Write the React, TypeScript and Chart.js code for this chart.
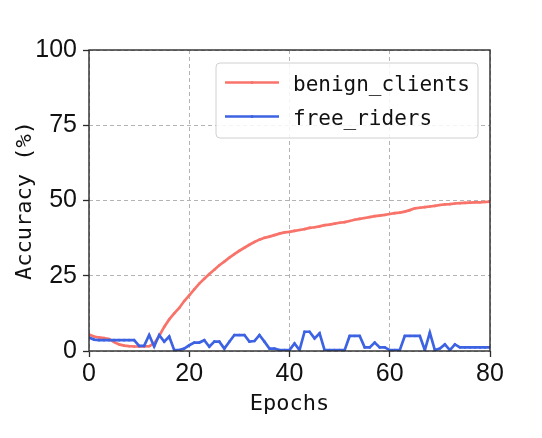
import { useEffect, useRef } from 'react';
import { Chart, registerables } from 'chart.js';

Chart.register(...registerables);

const epochs: number[] = [
  0, 1, 2, 3, 4, 5, 6, 7, 8, 9, 10, 11, 12, 13, 14, 15, 16, 17, 18, 19, 20,
  21, 22, 23, 24, 25, 26, 27, 28, 29, 30, 31, 32, 33, 34, 35, 36, 37, 38, 39, 40,
  41, 42, 43, 44, 45, 46, 47, 48, 49, 50, 51, 52, 53, 54, 55, 56, 57, 58, 59, 60,
  61, 62, 63, 64, 65, 66, 67, 68, 69, 70, 71, 72, 73, 74, 75, 76, 77, 78, 79, 80,
];

const benignClients: number[] = [
  5.5, 4.8, 4.5, 4.3, 4.0, 3.0, 2.2, 1.8, 1.6, 1.5, 1.5, 1.5, 1.6, 2.5, 5.0, 8.0,
  10.5, 12.5, 14.3, 16.6, 18.5, 20.5, 22.4, 24.0, 25.6, 27.0, 28.5, 29.7, 31.0,
  32.2, 33.3, 34.3, 35.3, 36.2, 37.0, 37.6, 38.0, 38.5, 39.0, 39.4, 39.6, 39.9,
  40.2, 40.5, 40.9, 41.1, 41.4, 41.8, 42.0, 42.3, 42.6, 42.8, 43.2, 43.6, 43.9,
  44.2, 44.5, 44.8, 45.0, 45.2, 45.5, 45.8, 46.0, 46.3, 46.8, 47.4, 47.6, 47.8,
  48.0, 48.2, 48.5, 48.7, 48.8, 49.0, 49.1, 49.2, 49.3, 49.4, 49.4, 49.5, 49.6,
];

const freeRiders: number[] = [
  4.5, 3.8, 3.6, 3.6, 3.6, 3.6, 3.6, 3.6, 3.6, 3.6, 1.7, 1.7, 5.3, 1.5, 5.3, 3.1,
  4.8, 0.3, 0.3, 0.8, 1.9, 2.8, 2.8, 3.6, 1.4, 3.1, 3.1, 0.8, 3.1, 5.3, 5.3, 5.3,
  3.1, 3.3, 5.3, 3.1, 0.8, 0.8, 0.3, 0.3, 0.3, 2.5, 0.3, 6.4, 6.4, 4.2, 5.9, 0.3,
  0.3, 0.3, 0.3, 0.3, 5.0, 5.0, 5.0, 1.2, 1.2, 2.8, 1.2, 1.2, 0.3, 0.3, 0.3, 5.0,
  5.0, 5.0, 5.0, 0.3, 6.1, 0.3, 0.8, 2.2, 0.3, 2.2, 1.2, 1.2, 1.2, 1.2, 1.2, 1.2,
  1.2, 1.9,
];

const seriesLabels: string[] = ['benign_clients', 'free_riders'];
const seriesColors: string[] = ['#f8736a', '#3d63e3'];
const xTicks: number[] = [0, 20, 40, 60, 80];
const yTicks: number[] = [0, 25, 50, 75, 100];

const MONO = '"DejaVu Sans Mono", monospace';
const SANS = '"Liberation Sans", Arial, sans-serif';

const framePlugin = {
  id: 'frameAndLegend',
  afterDraw(chart: any) {
    const { ctx, chartArea } = chart;
    ctx.save();
    ctx.strokeStyle = '#2a2a2a';
    ctx.lineWidth = 1.4;
    ctx.strokeRect(chartArea.left, chartArea.top, chartArea.right - chartArea.left, chartArea.bottom - chartArea.top);

    const bx = chartArea.left + 127;
    const by = chartArea.top + 13;
    const bw = 262;
    const bh = 75;
    const r = 4;
    ctx.beginPath();
    ctx.moveTo(bx + r, by);
    ctx.lineTo(bx + bw - r, by);
    ctx.quadraticCurveTo(bx + bw, by, bx + bw, by + r);
    ctx.lineTo(bx + bw, by + bh - r);
    ctx.quadraticCurveTo(bx + bw, by + bh, bx + bw - r, by + bh);
    ctx.lineTo(bx + r, by + bh);
    ctx.quadraticCurveTo(bx, by + bh, bx, by + bh - r);
    ctx.lineTo(bx, by + r);
    ctx.quadraticCurveTo(bx, by, bx + r, by);
    ctx.closePath();
    ctx.fillStyle = 'rgba(255,255,255,0.85)';
    ctx.fill();
    ctx.strokeStyle = '#d0d0d0';
    ctx.lineWidth = 1;
    ctx.stroke();

    chart.data.datasets.forEach((ds: any, i: number) => {
      const ly = by + 19.5 + i * 34;
      ctx.strokeStyle = ds.borderColor;
      ctx.lineWidth = 2.7;
      ctx.beginPath();
      ctx.moveTo(bx + 9, ly);
      ctx.lineTo(bx + 63, ly);
      ctx.stroke();
      ctx.fillStyle = ds.borderColor;
      ctx.beginPath();
      ctx.arc(bx + 36, ly, 1.6, 0, Math.PI * 2);
      ctx.fill();
      ctx.fillStyle = '#111111';
      ctx.font = `21px ${MONO}`;
      ctx.textBaseline = 'alphabetic';
      ctx.textAlign = 'left';
      ctx.fillText(ds.label, bx + 77, ly + 8.5);
    });
    ctx.restore();
  },
};

export default function App() {
  const canvasRef = useRef<HTMLCanvasElement | null>(null);

  useEffect(() => {
    const canvas = canvasRef.current;
    if (!canvas) return;
    const makeData = (vals: number[]) => epochs.map((e, i) => ({ x: e, y: vals[i] }));
    const gridOpts: any = {
      color: '#b4b4b4',
      lineWidth: 1,
      tickLength: 6,
      tickColor: '#2a2a2a',
      tickWidth: 1.3,
    };
    const chart = new Chart(canvas, {
      type: 'line',
      data: {
        datasets: [
          {
            label: seriesLabels[0],
            data: makeData(benignClients),
            borderColor: seriesColors[0],
            backgroundColor: seriesColors[0],
            borderWidth: 2.7,
            pointRadius: 1.3,
            pointBorderWidth: 0,
            pointBackgroundColor: seriesColors[0],
            tension: 0,
            order: 2,
          },
          {
            label: seriesLabels[1],
            data: makeData(freeRiders),
            borderColor: seriesColors[1],
            backgroundColor: seriesColors[1],
            borderWidth: 2.7,
            pointRadius: 1.3,
            pointBorderWidth: 0,
            pointBackgroundColor: seriesColors[1],
            tension: 0,
            order: 1,
          },
        ],
      },
      options: {
        animation: false,
        responsive: false,
        maintainAspectRatio: false,
        layout: { padding: { left: 0, top: 50, right: 52, bottom: 0 } },
        plugins: {
          legend: { display: false },
          tooltip: { enabled: false },
        },
        scales: {
          x: {
            type: 'linear',
            min: 0,
            max: 80,
            afterFit: (s: any) => {
              s.height = 87;
            },
            afterBuildTicks: (s: any) => {
              s.ticks = xTicks.map((v) => ({ value: v }));
            },
            ticks: {
              font: { family: SANS, size: 25 },
              color: '#111111',
              padding: 2,
              maxRotation: 0,
            },
            grid: gridOpts,
            border: { display: false, dash: [4, 3] },
            title: {
              display: true,
              text: 'Epochs',
              font: { family: MONO, size: 22 },
              color: '#111111',
              padding: { top: 0, bottom: 21 },
            },
          },
          y: {
            type: 'linear',
            min: 0,
            max: 100,
            afterFit: (s: any) => {
              s.width = 89;
            },
            afterBuildTicks: (s: any) => {
              s.ticks = yTicks.map((v) => ({ value: v }));
            },
            ticks: {
              font: { family: SANS, size: 25 },
              color: '#111111',
              padding: 6,
            },
            grid: gridOpts,
            border: { display: false, dash: [4, 3] },
            title: {
              display: true,
              text: 'Accuracy (%)',
              font: { family: MONO, size: 22 },
              color: '#111111',
              padding: { top: 12, bottom: 0 },
            },
          },
        },
      },
      plugins: [framePlugin],
    });
    return () => chart.destroy();
  }, []);

  return (
    <div style={{ position: 'fixed', left: 0, top: 0, width: 542, height: 438, background: '#ffffff' }}>
      <canvas ref={canvasRef} width={542} height={438} style={{ display: 'block' }} />
    </div>
  );
}
